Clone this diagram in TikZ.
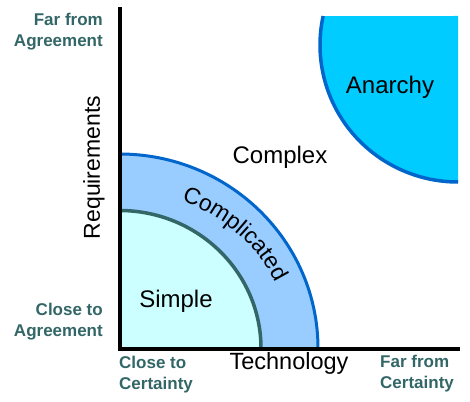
\documentclass[tikz,border=0pt]{standalone}
\usepackage{fontspec}
\setmainfont{Liberation Sans}
\usetikzlibrary{decorations.text}
\definecolor{simplefill}{HTML}{CCFFFF}
\definecolor{simpleline}{HTML}{336666}
\definecolor{complfill}{HTML}{99CCFF}
\definecolor{complline}{HTML}{0066CC}
\definecolor{anarchyfill}{HTML}{00CCFF}
\definecolor{endtext}{HTML}{336666}

\begin{document}
\begin{tikzpicture}[x=1pt,y=-1pt]

    \tikzset{
      zone/.style={
        font=\fontsize{24}{28}\selectfont,
        inner sep=0pt,
      },
      endlabel/.style={
        font=\bfseries\fontsize{17}{21}\selectfont,
        text=endtext,
        inner sep=0pt,
      },
    }
    \useasboundingbox (0,0) rectangle (470,401);

    \coordinate (O) at (119.5,348.5);
    \coordinate (ytop) at (119.5,7);
    \coordinate (xend) at (460,348.5);
    \coordinate (anarchyC) at (458,45);

	% complicated band
	\fill[complfill] (O) -- ++(0,-194.5) arc[start angle=-90, end angle=0, x radius=198.5, y radius=194.5] -- cycle;
	\draw[complline, line width=3pt] (119.5,154) arc[start angle=-90, end angle=0, x radius=198.5, y radius=194.5];

	% simple
	\fill[simplefill] (O) -- ++(0,-138) arc[start angle=-90, end angle=0, x radius=141.5, y radius=138] -- cycle;
	\draw[simpleline, line width=3.5pt] (119.5,210.5) arc[start angle=-90, end angle=0, x radius=141.5, y radius=138];

	% anarchy
	\fill[anarchyfill] (anarchyC) ++(192.2:138 and 137) arc[start angle=192.2, end angle=90, x radius=138, y radius=137] -- (458,16) -- cycle;
	\draw[complline, line width=3.5pt] (anarchyC) ++(192.2:138 and 137) arc[start angle=192.2, end angle=90, x radius=138, y radius=137];

	\draw[line width=4pt] (ytop) -- (O) -- (xend);

	\node[zone, anchor=base] (anarchy) at (390,93) {Anarchy};
	\node[zone, anchor=base] (complex) at (280,163) {Complex};
	\node[zone, anchor=base] (simple) at (176,307) {Simple};
	\path[decorate, decoration={text along path, text align=center,
	    text={|\fontsize{23}{27}\selectfont|Complicated}}]
	  (O) ++(-88:172 and 158) arc[start angle=-88, end angle=-4, x radius=172, y radius=158];
	\node[zone, font=\fontsize{23}{27}\selectfont, rotate=90] (requirements) at (94,167.5) {Requirements};
	\node[zone, font=\fontsize{23.5}{27}\selectfont, anchor=base] (technology) at (289,369) {Technology};

	\node[endlabel, anchor=north east, align=right] (farAgree) at (103,12.5) {Far from\\Agreement};
	\node[endlabel, anchor=north east, align=right] (closeAgree) at (103,303) {Close to\\Agreement};
	\node[endlabel, anchor=north west, align=left] (closeCert) at (119,356) {Close to\\Certainty};
	\node[endlabel, anchor=north west, align=left] (farCert) at (380,355) {Far from\\Certainty};

\end{tikzpicture}
\end{document}
